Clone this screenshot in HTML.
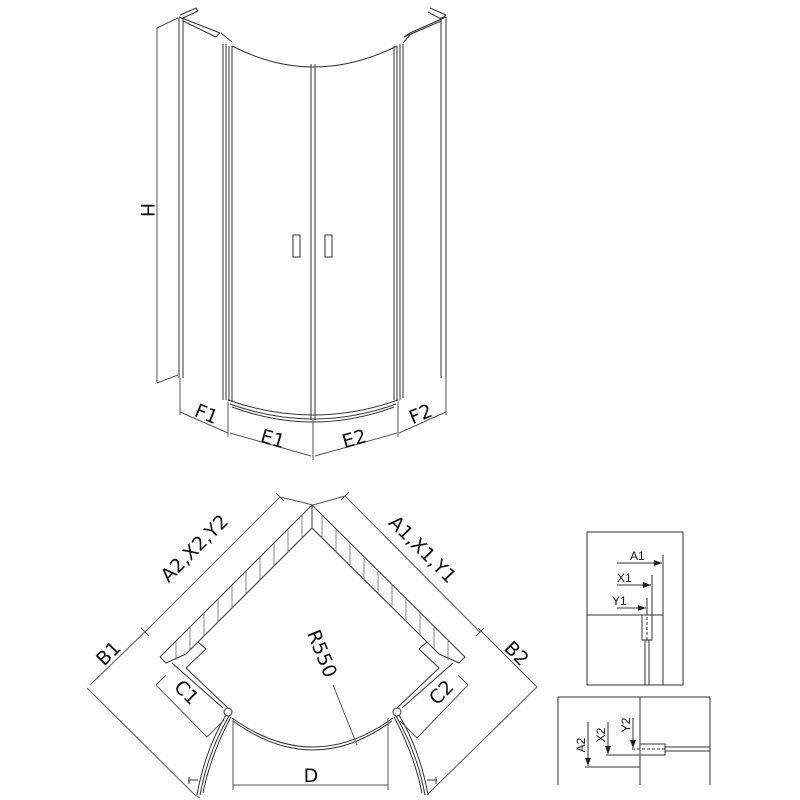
<!DOCTYPE html>
<html><head><style>html,body{margin:0;padding:0;background:#fff}svg{display:block}</style></head><body>
<svg width="800" height="800" viewBox="0 0 800 800" xmlns="http://www.w3.org/2000/svg" font-family="DejaVu Sans, Liberation Sans, sans-serif">
<defs>
<marker id="ar" markerWidth="8" markerHeight="6" refX="8" refY="3" orient="auto"><path d="M0,0 L8,3 L0,6 z" fill="#222"/></marker>
</defs>
<g fill="none" stroke="#333" stroke-width="1">
<!-- TOP VIEW -->
<path d="M179,18 V378 M183,18 V378"/>
<path d="M180,15 L196,8 L198,11 L183,18"/>
<path d="M179,17 L220,33 L216,37 L183,21"/>
<path d="M221,33 L232,42"/>
<path d="M223,44 V400 M226,44 V400 M229,46 V400 M232,46 V402"/>
<path d="M232,46 Q313,88 397,46"/>
<path d="M311,64 V420 M315,64 V420"/>
<path d="M394,46 V400 M397,46 V400 M400,44 V400 M403,44 V398"/>
<path d="M441,17 V378 M446,17 V378"/>
<path d="M430,8 L446,15 L441,19 L428,12"/>
<path d="M446,17 L410,33 L404,37 L441,21"/>
<path d="M403,43 L410,35"/>
<rect x="293" y="235" width="7" height="22"/>
<rect x="325" y="235" width="7" height="22"/>
<path d="M228,400 Q313,430 398,400 M230,404 Q313,434 396,404 M232,407 Q313,437 394,407" />
<!-- H -->
<path d="M157,28 V383 M157,28 L178,18 M157,383 L178,375" stroke="#555"/>
<!-- F/E dims -->
<path d="M180,378 V415 M228,402 V437 M313,420 V460 M398,402 V437 M446,378 V415" stroke="#555"/>
<path d="M180,412 L228,433 M230,433 L311,456 M315,456 L397,433 M399,433 L446,412" stroke="#555"/>

<!-- PLAN VIEW -->
<path d="M312,505 L160,657 M312,505 L465,657"/>
<path d="M312,528 L198,642 L186,654 M312,528 L427,642 L439,654"/>
<path d="M312,528 V505"/>
<path d="M160,657 L166,663 L186,654 M465,657 L459,663 L439,654"/>
<path d="M198,642 L206,649 L186,668 L228,708 M427,642 L419,649 L439,668 L397,708"/>
<path d="M172,663 L223,708 M453,663 L402,708"/>
<g stroke="#666" stroke-width="0.8">
<path d="M302,515V538 M288,529V552 M274,543V566 M260,557V580 M246,571V594 M232,585V608 M218,599V622 M204,613V636 M190,627V650 M176,641V660"/>
<path d="M322,515V538 M336,529V552 M350,543V566 M364,557V580 M378,571V594 M392,585V608 M406,599V622 M420,613V636 M434,627V650 M448,641V660"/>
</g>
<circle cx="228" cy="712" r="4"/><circle cx="397" cy="712" r="4"/>
<path d="M232,718 Q313,776 393,718 M233,721 Q313,779 392,721"/>
<path d="M226,715 Q205,750 197,795 M229,716 Q208,752 200,795 M231,717 Q211,754 203,793"/>
<path d="M399,715 Q420,750 428,795 M396,716 Q417,752 425,795 M394,717 Q414,754 422,793"/>
<path d="M188,780 h10 M189,777 v7 M427,780 h10 M436,777 v7"/>
<g stroke="#555">
<path d="M145,632 L280,497 M141,628 L149,636 M276,493 L284,501 M280,497 L313,505"/>
<path d="M345,496 L480,632 M341,500 L349,492 M476,636 L484,628 M345,496 L313,505"/>
<path d="M87,688 L195,795 M90,685 L150,627 M195,795 L200,798"/>
<path d="M537,687 L427,795 M537,687 L478,628"/>
<path d="M156,685 L207,737 M156,685 L166,675 M207,737 L224,720"/>
<path d="M468,685 L417,738 M468,685 L458,675 M417,738 L400,721"/>
<path d="M233,785 H388 M233,718 V790 M388,718 V790"/>
<path d="M333,685 L357,745"/>
</g>

<!-- DETAIL 1 -->
<rect x="587" y="532" width="96" height="153"/>
<path d="M587,615 H663 M663,555 V685"/>
<rect x="642" y="615" width="10" height="25"/>
<path d="M645,640 V685 M649,640 V685"/>
<path d="M647,612 V640" stroke-dasharray="3,2"/>
<path d="M652,575 V615 M647,598 V615"/>
<path d="M617,563 H662" marker-end="url(#ar)"/>
<path d="M617,585 H651" marker-end="url(#ar)"/>
<path d="M617,608 H646" marker-end="url(#ar)"/>
<!-- DETAIL 2 -->
<path d="M558,697 H710 M558,697 V785 M710,697 V785 M640,697 V785"/>
<path d="M585,767 H640"/>
<rect x="640" y="744" width="25" height="11"/>
<path d="M665,747 H710 M665,751 H710"/>
<path d="M632,749 H665" stroke-dasharray="3,2"/>
<path d="M606,755 H640"/>
<path d="M588,722 V766" marker-end="url(#ar)"/>
<path d="M608,722 V754" marker-end="url(#ar)"/>
<path d="M633,718 V748" marker-end="url(#ar)"/>
</g>
<g fill="#111" font-size="19">
<text x="0" y="0" transform="translate(141,210) rotate(90)" text-anchor="middle">H</text>
<text x="0" y="0" transform="translate(204,420) rotate(22)" text-anchor="middle">F1</text>
<text x="0" y="0" transform="translate(271,445) rotate(16)" text-anchor="middle">E1</text>
<text x="0" y="0" transform="translate(356,445) rotate(-16)" text-anchor="middle">E2</text>
<text x="0" y="0" transform="translate(423,420) rotate(-22)" text-anchor="middle">F2</text>
<text x="0" y="0" transform="translate(199,553) rotate(-45)" text-anchor="middle">A2,X2,Y2</text>
<text x="0" y="0" transform="translate(418,554) rotate(45)" text-anchor="middle">A1,X1,Y1</text>
<text x="0" y="0" transform="translate(113,658) rotate(-45)" text-anchor="middle">B1</text>
<text x="0" y="0" transform="translate(512,658) rotate(45)" text-anchor="middle">B2</text>
<text x="0" y="0" transform="translate(182,697) rotate(45)" text-anchor="middle">C1</text>
<text x="0" y="0" transform="translate(446,697) rotate(-45)" text-anchor="middle">C2</text>
<text x="311" y="782" text-anchor="middle">D</text>
<text x="0" y="0" transform="translate(316,656) rotate(68)" text-anchor="middle">R550</text>
</g>
<g fill="#111" font-size="12" font-family="Liberation Sans, sans-serif">
<text x="630" y="560">A1</text>
<text x="617" y="582">X1</text>
<text x="612" y="605">Y1</text>
<text transform="translate(585,745) rotate(-90)" text-anchor="middle">A2</text>
<text transform="translate(605,735) rotate(-90)" text-anchor="middle">X2</text>
<text transform="translate(630,725) rotate(-90)" text-anchor="middle">Y2</text>
</g>
</svg>
</body></html>
